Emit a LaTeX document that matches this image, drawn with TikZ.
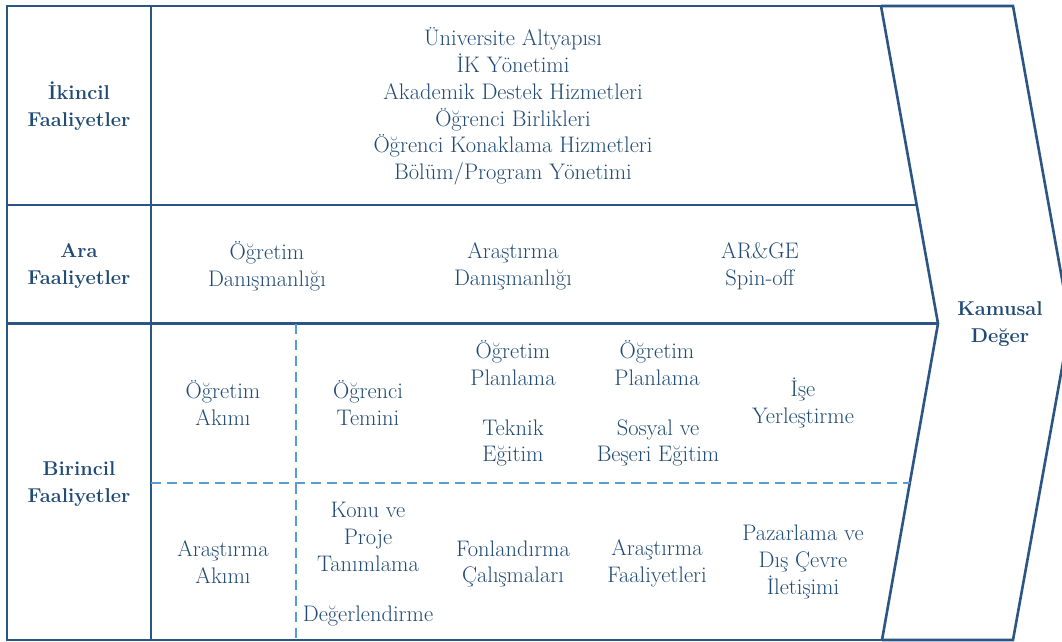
\documentclass[tikz,border=0pt]{standalone}
\definecolor{inkblue}{HTML}{1F4A75}
\definecolor{frameblue}{HTML}{2A5584}
\definecolor{dashblue}{HTML}{5B9BD5}
\tikzset{
  frame/.style={draw=frameblue, line width=2.6pt, line join=miter},
  divider/.style={draw=dashblue, line width=2pt, dash pattern=on 10pt off 6pt},
  txt/.style={text=inkblue, align=center, inner sep=0pt,
    font=\fontsize{22.5}{26.8}\selectfont},
  head/.style={text=inkblue, align=center, inner sep=0pt,
    font=\fontsize{20}{27}\selectfont\bfseries},
}
\begin{document}
\begin{tikzpicture}[x=1pt, y=-1pt]
\useasboundingbox (0,0) rectangle (1062,642);
\clip (0,0) rectangle (1062,642);

% frame corners and chevron points
\coordinate (tl) at (7,6);
\coordinate (bl) at (7,640);
\coordinate (itop) at (881,6);
\coordinate (itip) at (938,323.5);
\coordinate (ibot) at (882,640);
\coordinate (otop) at (1013,6);
\coordinate (otip) at (1070,323.5);
\coordinate (obot) at (1013,640);
\coordinate (ctop) at (151,6);
\coordinate (cbot) at (151,640);
\coordinate (r1l) at (7,205);
\coordinate (r1r) at (916.8,205);
\coordinate (r2l) at (7,323.5);
\coordinate (dvt) at (296,323.5);
\coordinate (dvb) at (296,640);
\coordinate (dhl) at (151,483);
\coordinate (dhr) at (909.5,483);

% outer outline with the value chevron
\draw[frame] (itop) -- (tl) -- (bl) -- (ibot);
\draw[frame] (itop) -- (otop) -- (otip) -- (obot) -- (ibot);
\draw[frame] (itop) -- (itip) -- (ibot);
% row and column rules
\draw[frame] (ctop) -- (cbot);
\draw[frame] (r1l) -- (r1r);
\draw[frame] (r2l) -- (itip);
% dashed subdivisions of the primary activities
\draw[divider] (dvt) -- (dvb);
\draw[divider] (dhl) -- (dhr);

% row headings
\node[head] (ikincil) at (79,106) {İkincil\\Faaliyetler};
\node[head] (ara) at (79,266) {Ara\\Faaliyetler};
\node[head] (birincil) at (79,484) {Birincil\\Faaliyetler};
\node[head] (kamusal) at (1000,324) {Kamusal\\Değer};

% secondary activities
\node[txt] (destek) at (513,106.5) {Üniversite Altyapısı\\İK Yönetimi\\Akademik Destek Hizmetleri\\Öğrenci Birlikleri\\Öğrenci Konaklama Hizmetleri\\Bölüm/Program Yönetimi};

% intermediate activities
\node[txt] (ogrdan) at (267,266) {Öğretim\\Danışmanlığı};
\node[txt] (arsdan) at (513,266) {Araştırma\\Danışmanlığı};
\node[txt] (arge) at (760,266) {AR\&GE\\Spin-off};

% primary activities: teaching stream
\node[txt] (ograkim) at (223,403) {Öğretim\\Akımı};
\node[txt] (temin) at (368,403) {Öğrenci\\Temini};
\node[txt] (plan1) at (513,363) {Öğretim\\Planlama};
\node[txt] (teknik) at (513,443) {Teknik\\Eğitim};
\node[txt] (plan2) at (657,363) {Öğretim\\Planlama};
\node[txt] (sosyal) at (658,443) {Sosyal ve\\Beşeri Eğitim};
\node[txt] (ise) at (803,403) {İşe\\Yerleştirme};

% primary activities: research stream
\node[txt] (arsakim) at (223,562) {Araştırma\\Akımı};
\node[txt] (konu) at (368,537) {Konu ve\\Proje\\Tanımlama};
\node[txt] (deger) at (368,616) {Değerlendirme};
\node[txt] (fon) at (513,564) {Fonlandırma\\Çalışmaları};
\node[txt] (arsfaal) at (657,563) {Araştırma\\Faaliyetleri};
\node[txt] (pazar) at (803,562) {Pazarlama ve\\Dış Çevre\\İletişimi};
\end{tikzpicture}
\end{document}
